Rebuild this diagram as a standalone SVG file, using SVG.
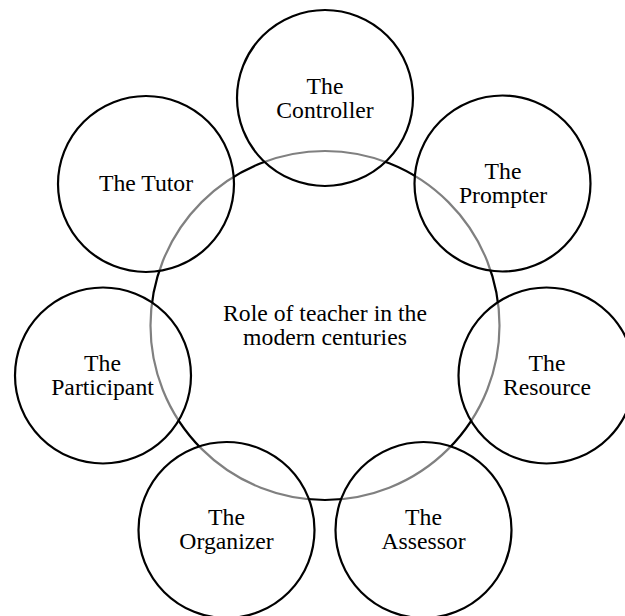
<svg xmlns="http://www.w3.org/2000/svg" width="625" height="616" viewBox="0 0 625 616">
<style>
.hub{fill:#ffffff;stroke:#000000;stroke-width:2.2}
.sat{fill:#ffffff;fill-opacity:0.5;stroke:#000000;stroke-width:2.2}
text{font-family:"Liberation Serif","Times New Roman",serif;font-size:23.7px;fill:#000000;text-anchor:middle}
</style>
<rect width="625" height="616" fill="#ffffff"/>
<g id="center">
<circle class="hub" cx="325" cy="325.5" r="174.5"/>
<text x="325" y="321">Role of teacher in the</text>
<text x="325" y="345">modern centuries</text>
</g>
<g id="controller">
<circle class="sat" cx="325" cy="98" r="88"/>
<text x="325" y="93.5">The</text>
<text x="325" y="117.5">Controller</text>
</g>
<g id="prompter">
<circle class="sat" cx="502.5" cy="183.5" r="88"/>
<text x="503" y="179">The</text>
<text x="503" y="203">Prompter</text>
</g>
<g id="resource">
<circle class="sat" cx="546.5" cy="375.5" r="88"/>
<text x="547" y="371">The</text>
<text x="547" y="395">Resource</text>
</g>
<g id="assessor">
<circle class="sat" cx="423.5" cy="530" r="88"/>
<text x="423.5" y="525">The</text>
<text x="423.5" y="549">Assessor</text>
</g>
<g id="organizer">
<circle class="sat" cx="226.5" cy="530" r="88"/>
<text x="226.5" y="525">The</text>
<text x="226.5" y="549">Organizer</text>
</g>
<g id="participant">
<circle class="sat" cx="103" cy="375.5" r="88"/>
<text x="102.5" y="371">The</text>
<text x="102.5" y="395">Participant</text>
</g>
<g id="tutor">
<circle class="sat" cx="146" cy="184" r="88"/>
<text x="146" y="190.5">The Tutor</text>
</g>
<g id="connectors"/>
</svg>
